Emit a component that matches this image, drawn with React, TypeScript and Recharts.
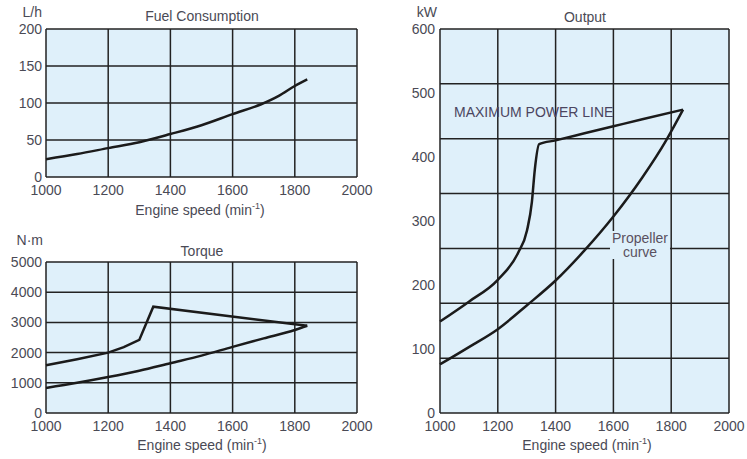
import type { ReactNode } from "react";
import { CartesianGrid, Line, LineChart, ReferenceLine, XAxis, YAxis } from "recharts";

// engine speed axis shared by all three panels (min-1)
const speedTicks = [1000, 1200, 1400, 1600, 1800, 2000];

// fuel consumption, L/h
const fuelTicks = [0, 50, 100, 150, 200];
const fuelSpeed = [1000, 1100, 1200, 1300, 1400, 1500, 1600, 1690, 1750, 1800, 1840];
const fuelRate = [24, 31, 39, 47, 58, 70, 85, 98, 110, 123, 132];

// torque, N·m
const torqueTicks = [0, 1000, 2000, 3000, 4000, 5000];
const maxTorqueSpeed = [1000, 1100, 1200, 1250, 1300, 1345, 1840];
const maxTorque = [1580, 1780, 2000, 2180, 2420, 3520, 2890];
const propTorqueSpeed = [1000, 1100, 1200, 1300, 1400, 1500, 1600, 1700, 1800, 1840];
const propTorque = [830, 1000, 1190, 1400, 1650, 1900, 2190, 2470, 2750, 2890];

// output, kW — the printed grid has 7 rows while the labels step by 100
const outputTicks = [0, 100, 200, 300, 400, 500, 600];
const outputMax = 600;
const outputGridRows = [0, 1, 2, 3, 4, 5, 6, 7];
const maxPowerSpeed = [1000, 1100, 1200, 1270, 1301, 1318, 1328, 1343, 1400, 1500, 1600, 1700, 1841];
const maxPower = [143, 174, 208, 250, 285, 330, 380, 420, 426, 437, 448, 459, 474];
const propPowerSpeed = [1000, 1100, 1200, 1300, 1400, 1500, 1600, 1700, 1780, 1800, 1841];
const propPower = [76, 103, 131, 168, 207, 254, 307, 368, 424, 440, 474];

const toPoints = (xs: number[], ys: number[]) => xs.map((rpm, i) => ({ rpm, v: ys[i] }));

const BG = "#dff0fa";
const GRID = "#222";
const INK = "#4a4a55";
const LINE = "#1b1b1b";
const tickStyle = { fill: INK, fontSize: 14 };

function Txt({ x, y, anchor = "middle", children, style }: { x: number; y: number; anchor?: string; children: ReactNode; style?: any }) {
  const tx = anchor === "middle" ? "-50%" : anchor === "end" ? "-100%" : "0";
  return (
    <div
      style={{
        position: "absolute",
        left: x,
        top: y,
        transform: `translate(${tx}, -50%)`,
        whiteSpace: "nowrap",
        fontSize: 14,
        lineHeight: "16px",
        color: INK,
        ...style,
      }}
    >
      {children}
    </div>
  );
}

const SpeedLabel = () => (
  <>
    Engine speed (min
    <span style={{ fontSize: 9, verticalAlign: "super", lineHeight: 0 }}>-1</span>)
  </>
);

export default function App() {
  return (
    <div
      style={{
        position: "absolute",
        left: 0,
        top: 0,
        width: 747,
        height: 459,
        background: "#fff",
        fontFamily: "'Liberation Sans', Arial, sans-serif",
        overflow: "hidden",
      }}
    >
      <div style={{ position: "absolute", left: 0, top: 0 }}>
        <LineChart width={382} height={207} margin={{ top: 29, right: 25, left: 0, bottom: 0 }}>
          <CartesianGrid stroke={GRID} strokeWidth={1.5} fill={BG} fillOpacity={1} />
          <XAxis type="number" dataKey="rpm" domain={[1000, 2000]} ticks={speedTicks} interval={0} tick={tickStyle} tickLine={false} axisLine={false} />
          <YAxis type="number" domain={[0, 200]} ticks={fuelTicks} interval={0} width={46} tick={tickStyle} tickLine={false} axisLine={false} tickSize={0} tickMargin={4} />
          <Line data={toPoints(fuelSpeed, fuelRate)} dataKey="v" type="monotone" stroke={LINE} strokeWidth={2.5} dot={false} isAnimationActive={false} />
        </LineChart>
      </div>

      <div style={{ position: "absolute", left: 0, top: 230 }}>
        <LineChart width={382} height={213} margin={{ top: 32, right: 25, left: 0, bottom: 0 }}>
          <CartesianGrid stroke={GRID} strokeWidth={1.5} fill={BG} fillOpacity={1} />
          <XAxis type="number" dataKey="rpm" domain={[1000, 2000]} ticks={speedTicks} interval={0} tick={tickStyle} tickLine={false} axisLine={false} />
          <YAxis type="number" domain={[0, 5000]} ticks={torqueTicks} interval={0} width={46} tick={tickStyle} tickLine={false} axisLine={false} tickSize={0} tickMargin={4} />
          <Line data={toPoints(maxTorqueSpeed, maxTorque)} dataKey="v" type="linear" stroke={LINE} strokeWidth={2.5} dot={false} isAnimationActive={false} />
          <Line data={toPoints(propTorqueSpeed, propTorque)} dataKey="v" type="monotone" stroke={LINE} strokeWidth={2.5} dot={false} isAnimationActive={false} />
        </LineChart>
      </div>

      <div style={{ position: "absolute", left: 390, top: 0 }}>
        <LineChart width={357} height={443} margin={{ top: 29, right: 18, left: 0, bottom: 0 }}>
          <CartesianGrid horizontal={false} stroke={GRID} strokeWidth={1.5} fill={BG} fillOpacity={1} />
          <XAxis type="number" dataKey="rpm" domain={[1000, 2000]} ticks={speedTicks} interval={0} tick={tickStyle} tickLine={false} axisLine={false} />
          <YAxis type="number" domain={[0, outputMax]} ticks={outputTicks} interval={0} width={50} tick={tickStyle} tickLine={false} axisLine={false} tickSize={0} tickMargin={5} />
          {outputGridRows.map((r) => (
            <ReferenceLine key={r} y={(r * outputMax) / 7} stroke={GRID} strokeWidth={1.5} />
          ))}
          <Line data={toPoints(maxPowerSpeed, maxPower)} dataKey="v" type="monotone" stroke={LINE} strokeWidth={2.5} dot={false} isAnimationActive={false} />
          <Line data={toPoints(propPowerSpeed, propPower)} dataKey="v" type="monotone" stroke={LINE} strokeWidth={2.5} dot={false} isAnimationActive={false} />
        </LineChart>
      </div>

      <Txt x={42} y={12} anchor="end">L/h</Txt>
      <Txt x={202} y={16}>Fuel Consumption</Txt>
      <Txt x={200} y={210}><SpeedLabel /></Txt>

      <Txt x={43} y={240} anchor="end">N·m</Txt>
      <Txt x={202} y={251}>Torque</Txt>
      <Txt x={202} y={445}><SpeedLabel /></Txt>

      <Txt x={437} y={12} anchor="end">kW</Txt>
      <Txt x={585} y={17}>Output</Txt>
      <Txt x={587} y={445}><SpeedLabel /></Txt>

      <Txt x={454} y={112} anchor="start" style={{ color: "#4b4560" }}>MAXIMUM POWER LINE</Txt>
      <Txt x={640} y={245} style={{ color: "#5a5060", background: BG, textAlign: "center", lineHeight: "14px", padding: "0 2px" }}>
        Propeller
        <br />
        curve
      </Txt>
    </div>
  );
}
